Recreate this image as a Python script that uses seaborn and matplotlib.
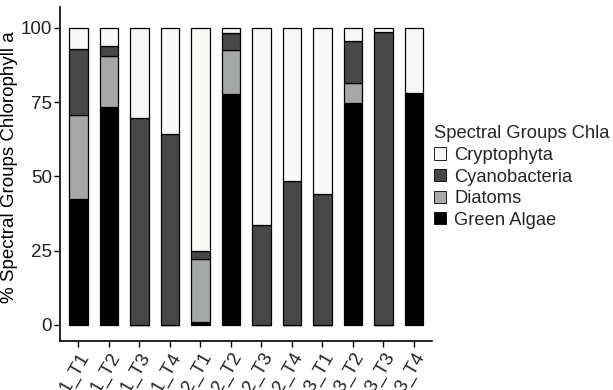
import matplotlib
matplotlib.use("Agg")
import matplotlib.pyplot as plt
import seaborn as sns
import pandas as pd
import numpy as np
from matplotlib.patches import Patch

samples = ["1_T1", "1_T2", "1_T3", "1_T4", "2_T1", "2_T2",
           "2_T3", "2_T4", "3_T1", "3_T2", "3_T3", "3_T4"]
green_algae = [42.4, 73.3, 0.0, 0.0, 0.8, 77.6, 0.0, 0.0, 0.0, 74.6, 0.0, 77.9]
diatoms = [28.3, 17.3, 0.0, 0.0, 21.3, 14.8, 0.0, 0.0, 0.0, 6.9, 0.0, 0.0]
cyanobacteria = [22.0, 3.2, 69.6, 64.3, 2.6, 5.8, 33.7, 48.5, 43.9, 14.1, 98.7, 0.0]
cryptophyta = [7.3, 6.2, 30.4, 35.7, 75.3, 1.8, 66.3, 51.5, 56.1, 4.4, 1.3, 22.1]

groups = ["Green Algae", "Diatoms", "Cyanobacteria", "Cryptophyta"]
colors = {"Cryptophyta": "#f8f8f6", "Cyanobacteria": "#474747",
          "Diatoms": "#a6a8a8", "Green Algae": "#000000"}

df = pd.DataFrame({"sample": samples, "Green Algae": green_algae,
                   "Diatoms": diatoms, "Cyanobacteria": cyanobacteria,
                   "Cryptophyta": cryptophyta})

sns.set_style("white")
plt.rcParams['font.family'] = ['Liberation Sans', 'DejaVu Sans']

fig = plt.figure(figsize=(6.13, 3.9), dpi=100)
ax = fig.add_axes([0.098, 0.126, 0.607, 0.856])

# stack bars from the bottom group up
bottom = np.zeros(len(samples))
for g in groups:
    sns.barplot(data=df, x="sample", y=g, order=samples, color=colors[g],
                bottom=bottom, width=0.6, edgecolor="black", linewidth=0.9,
                ax=ax, saturation=1)
    bottom = bottom + df[g].values

ax.set_xlim(-0.6, 11.6)
ax.set_ylim(-5.4, 107)
ax.set_yticks([0, 25, 50, 75, 100])
ax.set_xlabel("")
ax.set_ylabel("% Spectral Groups Chlorophyll a", fontsize=13.5, color="black")
ax.yaxis.set_label_coords(-0.113, 0.52)
ax.tick_params(axis="both", labelsize=13.5, colors="black", length=4, width=1,
               direction="out", bottom=True, left=True, pad=2)
ax.tick_params(axis="both", labelcolor="#222222")
plt.setp(ax.get_xticklabels(), rotation=60, ha="right", rotation_mode="anchor")
for s in ["top", "right"]:
    ax.spines[s].set_visible(False)
for s in ["left", "bottom"]:
    ax.spines[s].set_color("black")
    ax.spines[s].set_linewidth(1.2)

handles = [Patch(facecolor=colors[g], edgecolor="black", linewidth=0.6, label=g)
           for g in ["Cryptophyta", "Cyanobacteria", "Diatoms", "Green Algae"]]
leg = fig.legend(handles=handles, title="Spectral Groups Chla", loc="center left",
                 bbox_to_anchor=(0.708, 0.546), frameon=False, fontsize=13.2,
                 title_fontsize=13.2, handlelength=0.65, handleheight=0.65,
                 handletextpad=0.45, labelspacing=0.25, borderaxespad=0,
                 borderpad=0)
leg._legend_box.align = "left"

fig.savefig("out.png", dpi=100)
